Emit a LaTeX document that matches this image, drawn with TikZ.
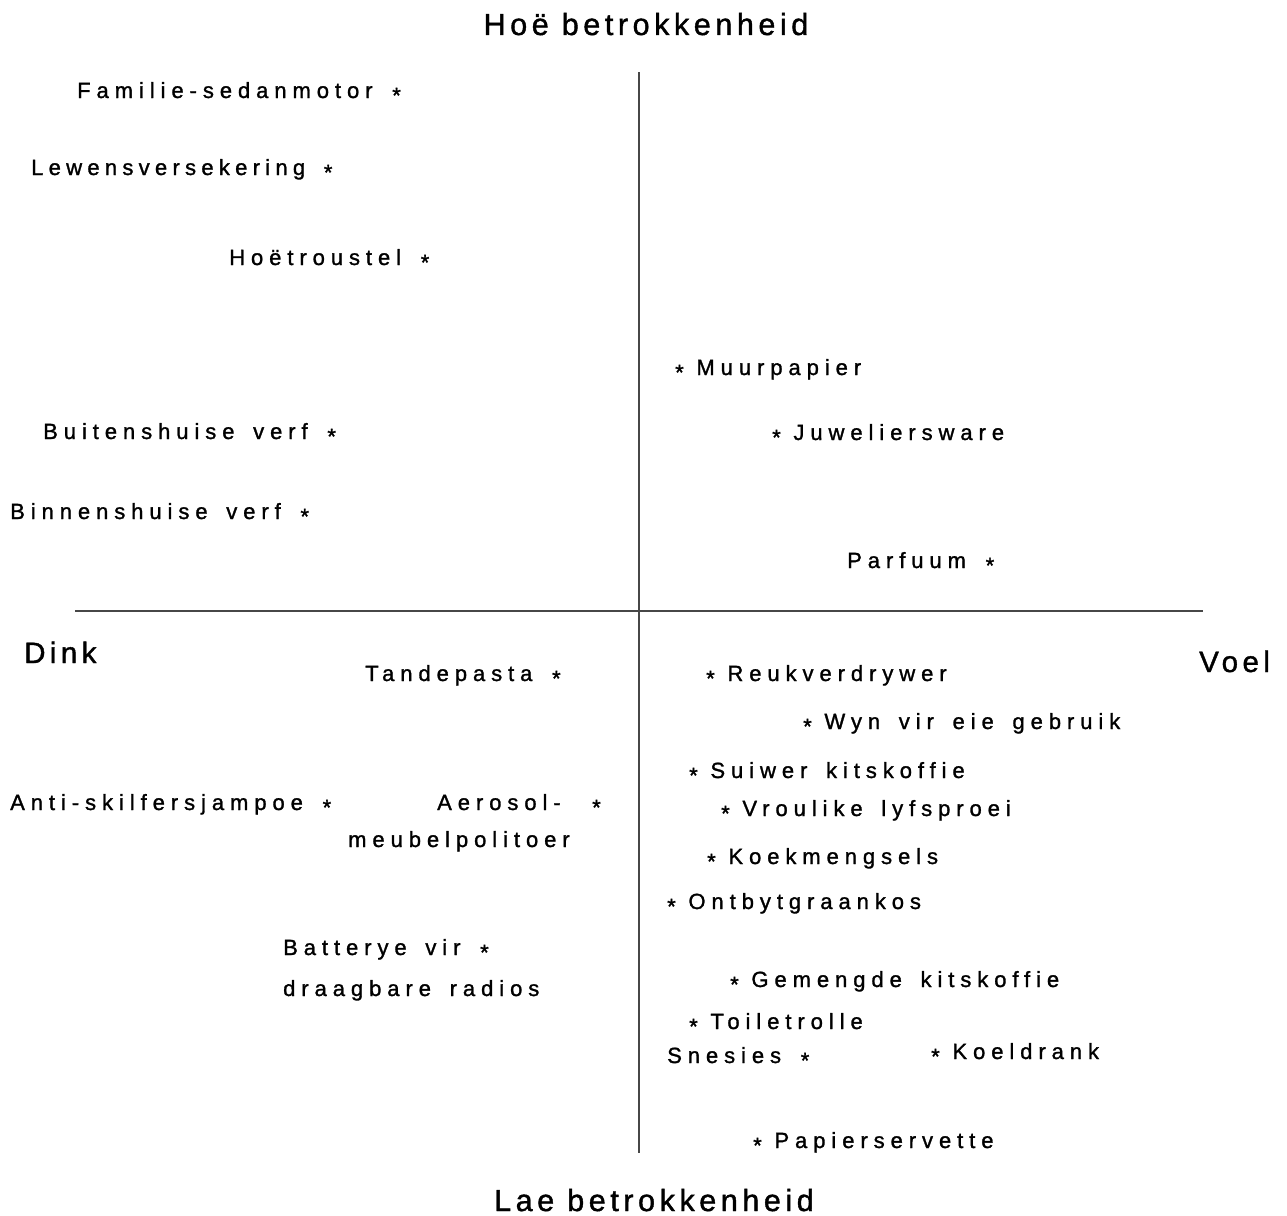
\documentclass[tikz,border=0pt]{standalone}
\usepackage{fontspec}
\setmainfont{Liberation Sans}
\newfontfamily\labfont[LetterSpace=27,WordSpace=1.55,FakeBold=1.3]{Liberation Sans}
\newfontfamily\headfont[LetterSpace=15,FakeBold=1.3]{Liberation Sans}
% small asterisk marking each product, lowered to mid x-height
\newcommand{\mk}{\raisebox{-5pt}{*}}
% asterisk after a label
\newcommand{\tmk}{\hspace{1pt}\mk}
% asterisk before a label
\newcommand{\lmk}{\mk\hspace{-6pt}}
\tikzset{
  lab/.style={anchor=base west, inner sep=0pt, font=\labfont\fontsize{22pt}{26pt}\selectfont},
  head/.style={anchor=base, inner sep=0pt, font=\headfont\fontsize{30.5pt}{36pt}\selectfont},
  side/.style={anchor=base west, inner sep=0pt, font=\headfont\fontsize{29.5pt}{34pt}\selectfont},
  axis/.style={line width=2.2pt, black!72},
}
\begin{document}
\begin{tikzpicture}[x=1pt,y=-1pt]
\useasboundingbox (0,0) rectangle (1287,1215);

% axes
\coordinate (top) at (639,72);
\coordinate (bot) at (639,1153);
\coordinate (lft) at (75,611);
\coordinate (rgt) at (1203,611);
\draw[axis] (top) -- (bot);
\draw[axis] (lft) -- (rgt);

% axis titles
\node[head] (hi) at (646,35) {Hoë betrokkenheid};
\node[head] (lo) at (654,1211) {Lae betrokkenheid};
\node[side] (dink) at (24,663) {Dink};
\node[side] (voel) at (1199,672) {Voel};

% upper left
\node[lab] (fam) at (77,98) {Familie-sedanmotor \tmk};
\node[lab] (lew) at (31,175) {\addfontfeature{LetterSpace=24}Lewensversekering \tmk};
\node[lab] (hoe) at (229,265) {Hoëtroustel \tmk};
\node[lab] (buit) at (43,439) {Buitenshuise verf \tmk};
\node[lab] (binn) at (10,519) {Binnenshuise verf \tmk};

% upper right
\node[lab] (muur) at (675,375) {\lmk{} Muurpapier};
\node[lab] (juw) at (772,440) {\lmk{} Juweliersware};
\node[lab] (parf) at (847,568) {Parfuum \tmk};

% lower left
\node[lab] (tand) at (365,681) {Tandepasta \tmk};
\node[lab] (anti) at (10,810) {Anti-skilfersjampoe \tmk};
\node[lab] (aer) at (437,810) {Aerosol-};
\node[lab] (aerm) at (592,810) {\mk};
\node[lab] (meub) at (348,847) {meubelpolitoer};
\node[lab] (batt) at (283,955) {Batterye vir \tmk};
\node[lab] (draa) at (283,996) {draagbare radios};

% lower right
\node[lab] (reuk) at (706,681) {\lmk{} Reukverdrywer};
\node[lab] (wyn) at (803,729) {\lmk{} Wyn vir eie gebruik};
\node[lab] (suiw) at (689,778) {\lmk{} Suiwer kitskoffie};
\node[lab] (vrou) at (721,816) {\lmk{} Vroulike lyfsproei};
\node[lab] (koek) at (707,864) {\lmk{} Koekmengsels};
\node[lab] (ontb) at (667,909) {\lmk{} Ontbytgraankos};
\node[lab] (geme) at (730,987) {\lmk{} Gemengde kitskoffie};
\node[lab] (toil) at (689,1029) {\lmk{} Toiletrolle};
\node[lab] (snes) at (667,1063) {Snesies \tmk};
\node[lab] (koel) at (931,1059) {\lmk{} Koeldrank};
\node[lab] (papi) at (753,1148) {\lmk{} Papierservette};
\end{tikzpicture}
\end{document}
